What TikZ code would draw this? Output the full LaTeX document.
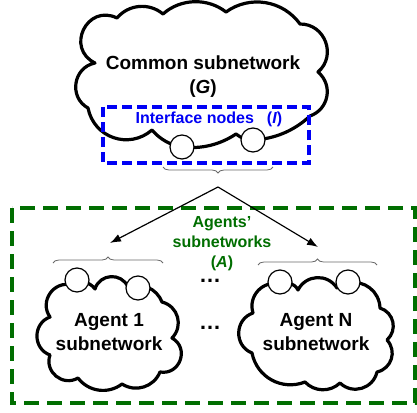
\documentclass[tikz,border=0pt]{standalone}
\usepackage{fontspec}
\setmainfont{Liberation Sans}
\usetikzlibrary{arrows.meta,decorations.pathreplacing}
\definecolor{agentgreen}{RGB}{0,110,0}
\definecolor{ifaceblue}{RGB}{0,0,245}
\definecolor{bracegray}{RGB}{105,105,105}

\begin{document}
\begin{tikzpicture}[x=1pt,y=-1pt,
  cloudline/.style={draw=black, line width=3.2pt, fill=white, line join=round},
  port/.style={circle, draw=black, line width=1.2pt, fill=white,
    minimum size=24pt, inner sep=0pt},
  bump20/.style={bend left=20, looseness=0.9},
  bump40/.style={bend left=40, looseness=0.95},
  bump45/.style={bend left=45, looseness=1.0},
  bump50/.style={bend left=50, looseness=1.05},
  bump60/.style={bend left=60, looseness=1.15},
  bump70/.style={bend left=70, looseness=1.25},
  bump80/.style={bend left=80, looseness=1.45},
  bump90/.style={bend left=90, looseness=1.7},
  cloudtext/.style={font=\fontsize{19}{24}\selectfont\bfseries, align=center, inner sep=0pt},
  ifacetext/.style={font=\fontsize{16}{20}\selectfont\bfseries, text=ifaceblue, inner sep=0pt},
  greentext/.style={font=\fontsize{16}{20}\selectfont\bfseries, text=agentgreen, align=center, inner sep=0pt},
  dotstext/.style={font=\fontsize{22}{22}\selectfont\bfseries, inner sep=0pt,
    text height=3.5pt, text depth=0pt},
  ifacebox/.style={draw=ifaceblue, line width=3.2pt, dash pattern=on 10pt off 5pt},
  agentbox/.style={draw=agentgreen, line width=3.2pt, dash pattern=on 15pt off 8pt},
  bracestyle/.style={draw=bracegray, line width=0.8pt, decorate,
    decoration={brace, amplitude=6pt}},
  arrowline/.style={draw=black, line width=1.2pt, -{Latex[length=11pt,width=8pt]}}
]
\useasboundingbox (0,0) rectangle (417,412);

% common subnetwork cloud
\path[cloudline] (95,63) to[bump90] (117,18) to[bump45] (163,14)
  to[bump40] (226,12) to[bump45] (300,24) to[bump70] (318,72)
  to[bump60] (310,116) to[bump20] (253,140) to[bump20] (236,134)
  to[bump20] (182,147) to[bump20] (152,130) to[bump60] (88,108)
  to[bump70] cycle;
\node[port] (g1) at (182,147) {};
\node[port] (g2) at (253,140) {};
\node[cloudtext] (common) at (203,77) {Common subnetwork\\(\textit{G})};

% interface nodes frame
\draw[ifacebox] (103,107) rectangle (309,163);
\node[ifacetext] (iface) at (209,119) {Interface nodes\hspace{13pt}(\textit{I})};

% agents frame
\draw[agentbox] (12,208) rectangle (415,403);
\node[greentext] (agents) at (222,244) {Agents’\\subnetworks\\(\textit{A})};

% agent 1 cloud
\path[cloudline] (72,285) to[bump45] (95,289) to[bump70] (128,287)
  to[bump45] (162,302) to[bump60] (172,338) to[bump80] (160,372)
  to[bump50] (122,384) to[bump45] (78,378) to[bump70] (50,355)
  to[bump70] (50,317) to[bump70] cycle;
\node[port] (p1a) at (77,280) {};
\node[port] (p1b) at (138,288) {};
\node[cloudtext] (agent1) at (109,332) {Agent 1\\subnetwork};

% agent N cloud
\path[cloudline] (280,284) to[bump45] (298,290) to[bump60] (337,288)
  to[bump45] (348,283) to[bump50] (380,308) to[bump60] (387,340)
  to[bump60] (377,372) to[bump60] (340,383) to[bump45] (305,382)
  to[bump50] (252,353) to[bump70] (253,313) to[bump60] cycle;
\node[port] (pna) at (280,282) {};
\node[port] (pnb) at (348,282) {};
\node[cloudtext] (agentN) at (316,332) {Agent N\\subnetwork};

% dots between agents
\node[dotstext] (dotsup) at (210,281) {…};
\node[dotstext] (dotsdown) at (210,328) {…};

% braces grouping the interface nodes
\draw[bracestyle] (273,167) -- (163,167);
\draw[bracestyle] (53,263) -- (163,263);
\draw[bracestyle] (258,265) -- (377,265);

% mapping arrows
\coordinate (split) at (218,187);
\coordinate (in1) at (110,243);
\coordinate (inN) at (318,247);
\draw[arrowline] (split) -- (in1);
\draw[arrowline] (split) -- (inN);
\end{tikzpicture}
\end{document}
